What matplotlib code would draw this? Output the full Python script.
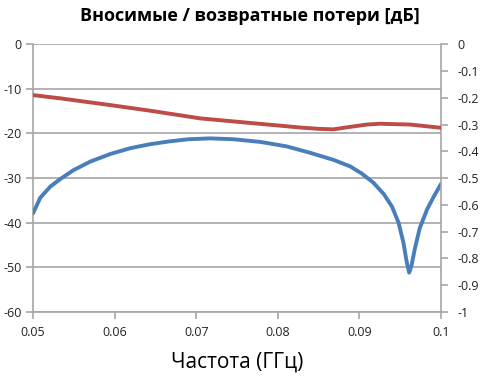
import matplotlib
matplotlib.use("Agg")
import matplotlib.pyplot as plt

plt.rcParams['font.family'] = ['Open Sans', 'DejaVu Sans']

title = "Вносимые / возвратные потери [дБ]"
xlabel = "Частота (ГГц)"

# Return loss (left axis, dB)
rl_freq = [0.05, 0.05089, 0.05212, 0.05335, 0.05498, 0.05702, 0.05947, 0.06192,
           0.06437, 0.0666, 0.0690, 0.0717, 0.0746, 0.0779, 0.0811, 0.0839,
           0.0868, 0.0889, 0.0903, 0.0917, 0.0930, 0.0940, 0.0948, 0.0954,
           0.0958, 0.0961, 0.0964, 0.0968, 0.0974, 0.0983, 0.0991, 0.1]
rl_db = [-37.9, -34.4, -31.9, -30.2, -28.2, -26.3, -24.6, -23.3,
         -22.4, -21.8, -21.3, -21.1, -21.3, -21.9, -22.9, -24.3,
         -25.9, -27.4, -29.0, -31.0, -33.6, -36.4, -40.0, -44.5,
         -48.8, -51.2, -49.5, -45.8, -41.2, -37.0, -34.2, -31.3]

# Insertion loss (right axis, dB)
il_freq = [0.05, 0.0533, 0.0594, 0.0643, 0.0705, 0.0766, 0.0806, 0.0827,
           0.0850, 0.0868, 0.0881, 0.0909, 0.0925, 0.0962, 0.1]
il_db = [-0.190, -0.202, -0.227, -0.248, -0.277, -0.294, -0.305, -0.311,
         -0.316, -0.318, -0.312, -0.300, -0.297, -0.300, -0.312]

left_ticks = [0, -10, -20, -30, -40, -50, -60]
right_ticks = [0, -0.1, -0.2, -0.3, -0.4, -0.5, -0.6, -0.7, -0.8, -0.9, -1]
right_labels = ["0", "-0.1", "-0.2", "-0.3", "-0.4", "-0.5", "-0.6", "-0.7", "-0.8", "-0.9", "-1"]
x_ticks = [0.05, 0.06, 0.07, 0.08, 0.09, 0.1]
x_labels = ["0.05", "0.06", "0.07", "0.08", "0.09", "0.1"]

grey = "#A6A6A6"
fig = plt.figure(figsize=(4.98, 3.88), dpi=100)
ax = fig.add_axes([0.0663, 0.196, 0.8192, 0.690])
ax2 = ax.twinx()

ax.plot(rl_freq, rl_db, color="#4A7EBB", lw=2.8, solid_capstyle='round',
        solid_joinstyle='round', zorder=3)
ax2.plot(il_freq, il_db, color="#BE4B48", lw=2.8, solid_capstyle='round',
         solid_joinstyle='round', zorder=3)

ax.set_xlim(0.05, 0.1)
ax.set_ylim(-60, 0)
ax2.set_ylim(-1, 0)
ax.set_xticks(x_ticks)
ax.set_xticklabels(x_labels)
ax.set_yticks(left_ticks)
ax.set_yticklabels([str(t) for t in left_ticks])
ax2.set_yticks(right_ticks)
ax2.set_yticklabels(right_labels)

ax.grid(axis='y', color=grey, lw=1.2)
ax.set_axisbelow(True)
for a in (ax, ax2):
    a.spines['top'].set_visible(False)
    for s in ('left', 'right', 'bottom'):
        a.spines[s].set_color(grey)
        a.spines[s].set_linewidth(1.2)
    a.tick_params(colors=grey, labelcolor="#222222", labelsize=9, length=5, width=1.2)
ax2.spines['left'].set_visible(False)
ax2.spines['bottom'].set_visible(False)
ax.spines['right'].set_visible(False)
ax.tick_params(axis='y', pad=3)
ax.tick_params(axis='x', pad=5)
ax2.tick_params(axis='y', pad=7)

fig.text(0.502, 0.960, title, ha='center', va='center', fontsize=13, fontweight='bold')
fig.text(0.476, 0.067, xlabel, ha='center', va='center', fontsize=15)

fig.savefig("out.png", dpi=100)
